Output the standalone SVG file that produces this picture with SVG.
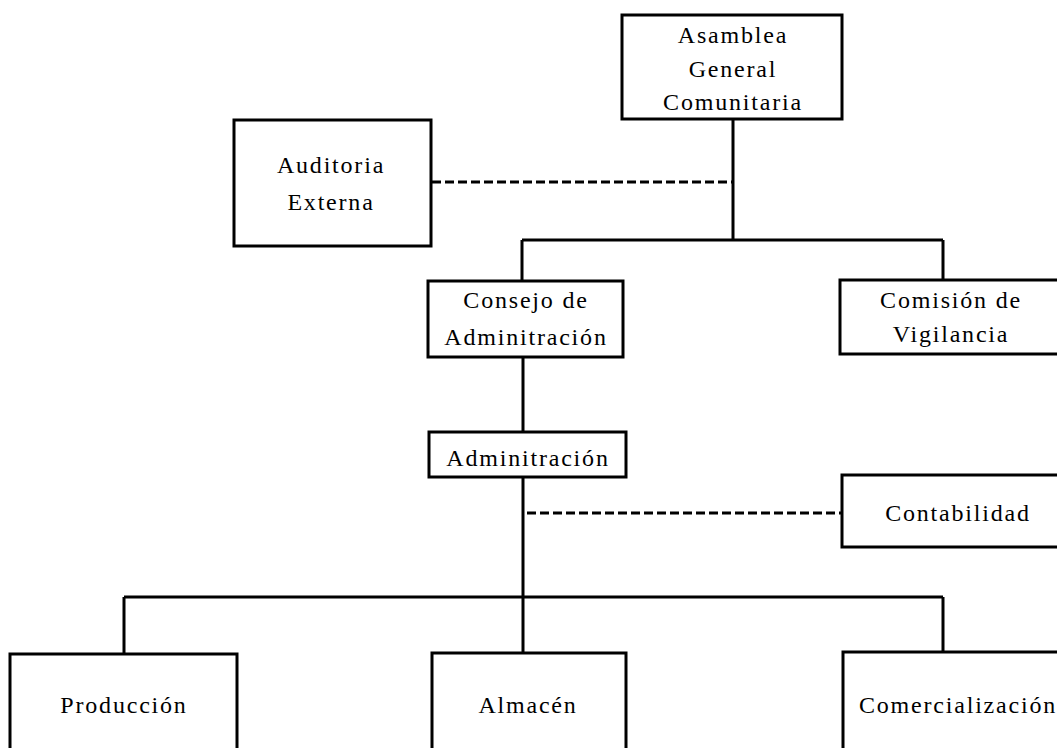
<svg xmlns="http://www.w3.org/2000/svg" width="1057" height="748" viewBox="0 0 1057 748">
<style>
.box{fill:#fff;stroke:#000;stroke-width:3}
.ln{fill:none;stroke:#000;stroke-width:3}
.dash{fill:none;stroke:#000;stroke-width:3;stroke-dasharray:9,4}
text{font-family:"Liberation Serif","Times New Roman",serif;font-size:24px;letter-spacing:1.8px;fill:#000;text-anchor:middle}
</style>
<rect width="1057" height="748" fill="#fff"/>
<g id="connectors">
<path class="ln" d="M733,119 V240 M522,240 H943 M522,240 V281 M943,240 V280 M523,357 V432 M523,477 V653 M124,597 H943 M124,597 V654 M943,597 V652"/>
<path class="dash" d="M432,182 H733 M527,513 H842"/>
</g>
<g id="asamblea"><rect class="box" x="622" y="15" width="220" height="104"/><text x="733" y="43">Asamblea</text><text x="733" y="77">General</text><text x="733" y="110">Comunitaria</text></g>
<g id="auditoria"><rect class="box" x="234" y="120" width="197" height="126"/><text x="331" y="173">Auditoria</text><text x="331" y="210">Externa</text></g>
<g id="consejo"><rect class="box" x="428" y="281" width="195" height="76"/><text x="526" y="308">Consejo de</text><text x="526" y="345">Adminitración</text></g>
<g id="comision"><rect class="box" x="840" y="280" width="240" height="74"/><text x="951" y="308">Comisión de</text><text x="951" y="342">Vigilancia</text></g>
<g id="administracion"><rect class="box" x="429" y="432" width="197" height="45"/><text x="528" y="466">Adminitración</text></g>
<g id="contabilidad"><rect class="box" x="842" y="475" width="240" height="72"/><text x="958" y="521">Contabilidad</text></g>
<g id="produccion"><rect class="box" x="10" y="654" width="227" height="110"/><text x="124" y="713">Producción</text></g>
<g id="almacen"><rect class="box" x="432" y="653" width="194" height="110"/><text x="528" y="713">Almacén</text></g>
<g id="comercializacion"><rect class="box" x="843" y="652" width="240" height="110"/><text x="958" y="713">Comercialización</text></g>
</svg>
